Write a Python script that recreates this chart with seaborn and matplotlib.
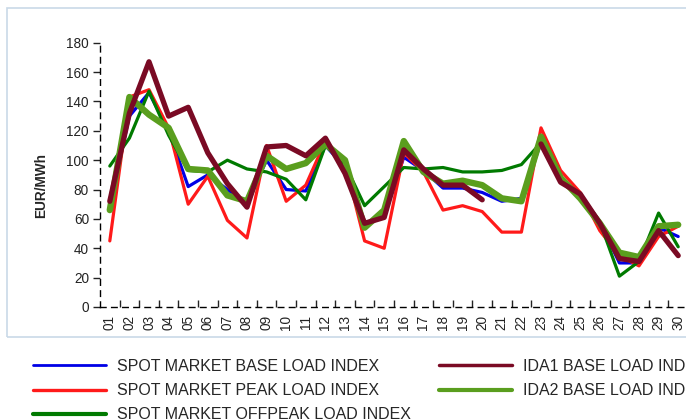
import numpy as np
import pandas as pd
import matplotlib
matplotlib.use("Agg")
import matplotlib.pyplot as plt
from matplotlib.patches import Rectangle
from matplotlib.ticker import FixedLocator
import seaborn as sns

# data (EUR/MWh per day)
days = [f"{d:02d}" for d in range(1, 31)]

spot_base = [70, 130, 146, 120, 82, 90, 80, 71, 100, 80, 79, 110, 95, 57, 62,
             102, 93, 81, 81, 78, 72, 74, 112, 88, 77, 58, 30, 30, 54, 48]
spot_peak = [45, 143, 148, 122, 70, 89, 59, 47, 110, 72, 83, 113, 98, 45, 40,
             105, 92, 66, 69, 65, 51, 51, 122, 93, 78, 52, 35, 28, 48, 55]
spot_offpeak = [96, 115, 147, 117, 93, 92, 100, 94, 92, 87, 73, 110, 97, 69, 82,
                95, 94, 95, 92, 92, 93, 97, 112, 88, 76, 58, 21, 31, 64, 41]
ida1_base = [72, 132, 167, 130, 136, 105, 84, 68, 109, 110, 103, 115, 91, 57, 61,
             107, 94, 83, 83, 73, np.nan, np.nan, 111, 85, 77, 57, 33, 31, 52, 35]
ida2_base = [66, 143, 131, 122, 94, 93, 76, 72, 103, 94, 98, 111, 100, 54, 66,
             113, 92, 84, 86, 83, 74, 72, 116, 88, 74, 57, 37, 34, 55, 56]

labels = ["SPOT MARKET BASE LOAD INDEX", "SPOT MARKET PEAK LOAD INDEX",
          "SPOT MARKET OFFPEAK LOAD INDEX", "IDA1 BASE LOAD INDEX", "IDA2 BASE LOAD INDEX"]
colors = ["#0000e6", "#ff1a1a", "#007a00", "#7a0a24", "#5a9e1e"]
widths = [2.3, 2.3, 2.3, 3.8, 4.6]
leg_widths = [2.0, 2.4, 3.0, 2.5, 3.0]
series = [spot_base, spot_peak, spot_offpeak, ida1_base, ida2_base]

sns.set_style("white")
plt.rcParams['font.family'] = ['Liberation Sans', 'DejaVu Sans']

fig = plt.figure(figsize=(6.86, 4.2), dpi=100)
fig.patches.append(Rectangle((7 / 686, 1 - 337 / 420), 700 / 686, 329 / 420,
                             transform=fig.transFigure, fill=False,
                             edgecolor="#c9d9e8", linewidth=1.2))
ax = fig.add_axes([100 / 686, 113 / 420, 588 / 686, 264.3 / 420])

x = np.arange(len(days))
handles = {}
# draw order: spot lines first, then IDA2, IDA1 on top
for i in [0, 1, 2, 4, 3]:
    s = pd.Series(series[i], index=x)
    seg_id = s.isna().cumsum()
    df = pd.DataFrame({"day": x, "val": s.values, "seg": seg_id.values}).dropna()
    for _, part in df.groupby("seg"):
        sns.lineplot(data=part, x="day", y="val", ax=ax, color=colors[i],
                     linewidth=widths[i], estimator=None, sort=False)
    handles[i] = plt.Line2D([], [], color=colors[i], linewidth=leg_widths[i])

ax.set_xlim(-0.5, 29.5)
ax.set_ylim(0, 180)
ax.set_yticks(range(0, 181, 20))
ax.set_xticks(x)
ax.set_xticklabels(days, rotation=90)
ax.xaxis.set_minor_locator(FixedLocator(np.arange(0.5, 29.5, 1)))
ax.tick_params(axis="x", which="major", length=0, pad=6, labelsize=9.8, colors="#222222")
ax.tick_params(axis="x", which="minor", length=5, width=1, color="#222222",
               direction="in", bottom=True)
ax.tick_params(axis="y", length=5, width=1, color="#222222", pad=3,
               labelsize=9.8, labelcolor="#222222", left=True)
ax.set_xlabel("")
ax.set_ylabel("")

for side in ["top", "right"]:
    ax.spines[side].set_visible(False)
for side in ["left", "bottom"]:
    ax.spines[side].set_linestyle((0, (4, 4)))
    ax.spines[side].set_color("black")
    ax.spines[side].set_linewidth(1)

fig.text(41 / 686, 1 - 185.5 / 420, "EUR/MWh", rotation=90, fontsize=9.8,
         fontweight="bold", ha="center", va="center")

leg = fig.legend([handles[i] for i in range(5)], labels, ncol=2,
                 loc="upper left", bbox_to_anchor=(33 / 686, 1 - 359 / 420),
                 frameon=False, borderaxespad=0, borderpad=0,
                 handlelength=4.56, handletextpad=0.69,
                 columnspacing=1.75, labelspacing=0.57,
                 prop={"size": 11.5})

fig.savefig("out.png", dpi=100)
